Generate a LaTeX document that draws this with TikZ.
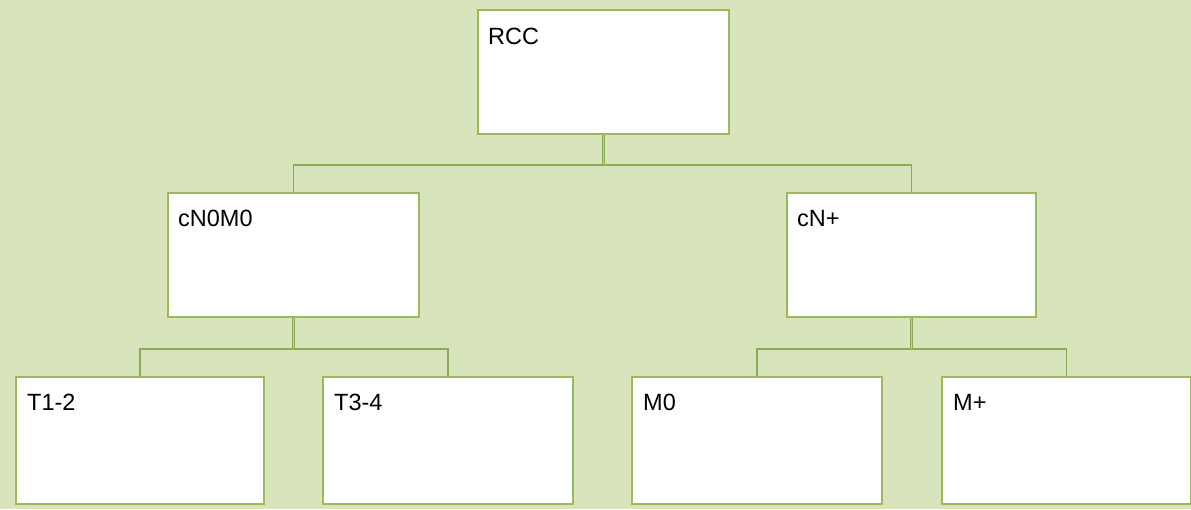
\documentclass[tikz,border=0pt]{standalone}
\usepackage{fontspec}
\setmainfont{Liberation Sans}
\definecolor{bgc}{HTML}{D8E4BC}
\definecolor{bordc}{HTML}{9BBB59}
\definecolor{linec}{HTML}{8DAB55}
\begin{document}
\begin{tikzpicture}[x=1pt,y=-1pt,
  box/.style={draw=bordc,line width=2pt,fill=white,rectangle,anchor=north west,
    minimum width=#1,minimum height=125pt,inner sep=0pt},
  box/.default=250pt,
  lbl/.style={anchor=base west,inner sep=0pt,font=\fontsize{23.5}{27}\selectfont},
  conn/.style={draw=linec,line width=1.6pt},
  stem/.style={draw=linec,line width=0.9pt,double=bgc!60!linec,double distance=0.6pt}]
\fill[bgc] (0,0) rectangle (1191,509);
\useasboundingbox (0,0) rectangle (1191,509);
% boxes
\node[box=251pt,minimum height=124pt] (rcc) at (477,9) {};
\node[box=251pt,minimum height=124pt] (cn0) at (167,192) {};
\node[box=249pt,minimum height=124pt] (cnp) at (786,192) {};
\node[box=248pt,minimum height=127pt] (t12) at (15,376) {};
\node[box=250pt,minimum height=127pt] (t34) at (322,376) {};
\node[box=250pt,minimum height=127pt] (m0) at (631,376) {};
\node[box=249pt,minimum height=127pt] (mp) at (941,376) {};
% labels
\node[lbl] (lrcc) at (488,44) {RCC};
\node[lbl] (lcn0) at (178,226) {cN0M0};
\node[lbl] (lcnp) at (797,226) {cN+};
\node[lbl] (lt12) at (27,410) {T1-2};
\node[lbl] (lt34) at (334,410) {T3-4};
\node[lbl] (lm0) at (643,410) {M0};
\node[lbl] (lmp) at (953,410) {M+};
% connectors
\coordinate (b1) at ([yshift=-30pt]rcc.south);
\coordinate (b2) at ([yshift=-31pt]cn0.south);
\coordinate (b3) at ([yshift=-31pt]cnp.south);
\draw[conn] (cn0.north) |- (b1) -| (cnp.north);
\draw[conn] (t12.north) |- (b2) -| (t34.north);
\draw[conn] (m0.north) |- (b3) -| (mp.north);
\draw[stem] (rcc.south) -- (b1);
\draw[stem] (cn0.south) -- (b2);
\draw[stem] (cnp.south) -- (b3);
\end{tikzpicture}
\end{document}
